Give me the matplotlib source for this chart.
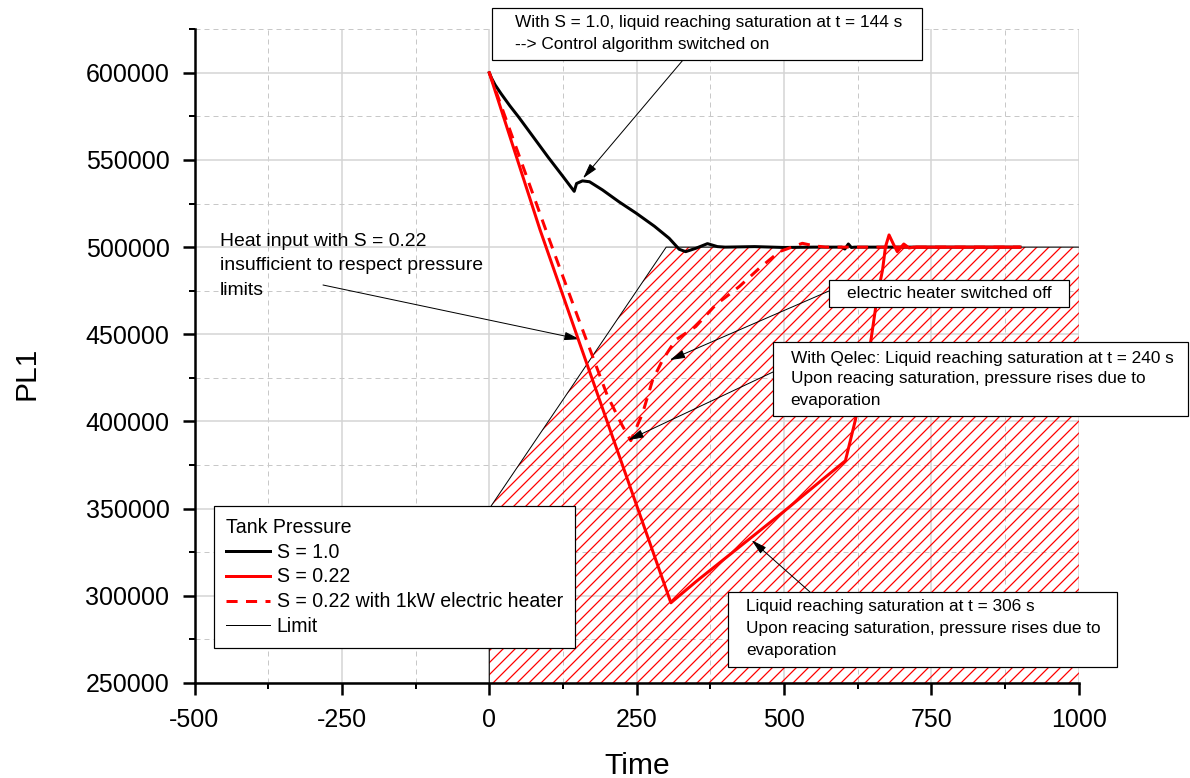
import matplotlib
matplotlib.use("Agg")
import matplotlib.pyplot as plt
from matplotlib.patches import Rectangle
from matplotlib.ticker import MultipleLocator

plt.rcParams['font.family'] = ['Liberation Sans', 'DejaVu Sans']
plt.rcParams['axes.unicode_minus'] = False
plt.rcParams['hatch.color'] = 'red'
plt.rcParams['hatch.linewidth'] = 1.25

# Tank pressure, S = 1.0
t_s10 = [0, 4, 10, 20, 35, 50, 75, 100, 125, 144, 148, 158, 170, 192, 220, 249, 280, 305, 322,
         333, 350, 370, 387, 400, 450, 500, 550, 598, 603, 609, 614, 620, 700, 800, 900]
p_s10 = [600000, 596800, 593000, 588000, 581000, 574500, 563000, 551500, 540500, 532000,
         536500, 538000, 537500, 532800, 526000, 519500, 512000, 505100, 498800, 497400,
         499300, 502000, 500300, 500000, 500300, 499800, 500000, 500000, 498900, 501800,
         499800, 500000, 500000, 500000, 500000]

# Tank pressure, S = 0.22
t_s022 = [0, 86, 151, 230, 308, 350, 400, 450, 500, 550, 604, 621, 647, 658, 667, 672,
          678, 686, 692, 703, 712, 720, 900]
p_s022 = [600000, 510000, 447000, 371000, 296000, 308000, 321500, 335000, 348500, 362500,
          377500, 401000, 446000, 471600, 487000, 500300, 507000, 501300, 497400, 501800,
          499500, 500000, 500000]

# Tank pressure, S = 0.22 with 1kW electric heater
t_heat = [0, 50, 100, 150, 200, 225, 240, 260, 277, 294, 316, 350, 384, 424, 458, 492,
          531, 550, 570, 900]
p_heat = [600000, 553000, 506000, 460000, 415000, 398000, 389000, 404700, 423800, 435300,
          446800, 454400, 466900, 477400, 487900, 497400, 502200, 500800, 500000, 500000]

# pressure limit
limit_t = [0, 0, 300, 1000]
limit_p = [250000, 350000, 500000, 500000]

W, H, DPI = 1190, 778, 72


def fp(x, y):
    # pixel position (top-left origin) -> figure fraction
    return (x / W, 1 - y / H)


fig = plt.figure(figsize=(W / DPI, H / DPI), dpi=DPI)
ax = fig.add_axes([194.5 / W, 1 - 683 / H, 884.4 / W, 653.8 / H])

ax.fill_between(limit_t, 250000, limit_p, facecolor='none', edgecolor='red',
                linewidth=0, hatch='//', zorder=1)
l4, = ax.plot(limit_t, limit_p, color='black', lw=1, zorder=2)
l1, = ax.plot(t_s10, p_s10, color='black', lw=3, zorder=3)
l3, = ax.plot(t_heat, p_heat, color='red', lw=3, ls=(0, (3.7, 2.8)), zorder=3)
l2, = ax.plot(t_s022, p_s022, color='red', lw=3, zorder=4)

ax.set_xlim(-500, 1000)
ax.set_ylim(250000, 625000)
ax.xaxis.set_major_locator(MultipleLocator(250))
ax.xaxis.set_minor_locator(MultipleLocator(125))
ax.yaxis.set_major_locator(MultipleLocator(50000))
ax.yaxis.set_minor_locator(MultipleLocator(25000))
ax.ticklabel_format(style='plain', useOffset=False)

ax.set_axisbelow(True)
ax.grid(which='major', color='#d4d4d4', lw=1.5, ls='-')
ax.grid(which='minor', color='#c8c8c8', lw=1, ls=(0, (5, 4)))

for s in ['top', 'right']:
    ax.spines[s].set_visible(False)
for s in ['left', 'bottom']:
    ax.spines[s].set_linewidth(2.5)
ax.tick_params(which='major', direction='out', length=12, width=2.5, labelsize=25, pad=13)
ax.tick_params(which='minor', direction='out', length=6, width=2)

ax.set_xlabel('Time', fontsize=30, labelpad=20)
ax.set_ylabel('PL1', fontsize=30)
ax.yaxis.set_label_coords(-0.1736, 0.474)

leg = ax.legend(handles=[l1, l2, l3, l4],
                labels=['S = 1.0', 'S = 0.22', 'S = 0.22 with 1kW electric heater', 'Limit'],
                title='Tank Pressure', loc='center', bbox_to_anchor=fp(394.5, 577),
                bbox_transform=fig.transFigure, fontsize=19.5, title_fontsize=19.5,
                alignment='left', fancybox=False, framealpha=1, edgecolor='black',
                borderpad=0.6, handlelength=2.26, handletextpad=0.35, labelspacing=0.3)
leg.get_frame().set_linewidth(1.2)
leg.set_zorder(10)


def note_box(x0, y0, x1, y1, lines, tx, ty, dy, size=17.2):
    fig.patches.append(Rectangle(fp(x0, y1), (x1 - x0) / W, (y1 - y0) / H,
                                 transform=fig.transFigure, facecolor='white',
                                 edgecolor='black', lw=1.2, zorder=5))
    for i, s in enumerate(lines):
        fig.text(*fp(tx, ty + i * dy), s, ha='left', va='center', fontsize=size, zorder=6)


def arrow(tip, tail):
    ax.annotate('', xy=tip, xycoords='data', xytext=fp(*tail), textcoords='figure fraction',
                annotation_clip=False,
                arrowprops=dict(arrowstyle='-|>,head_length=1.0,head_width=0.27',
                                mutation_scale=13, lw=1, color='black',
                                shrinkA=0, shrinkB=0))


note_box(492, 8, 922, 60,
         ['With S = 1.0, liquid reaching saturation at t = 144 s',
          '--> Control algorithm switched on'], 515, 22, 22)
arrow((159, 539500), (683, 60))

for i, s in enumerate(['Heat input with S = 0.22', 'insufficient to respect pressure', 'limits']):
    fig.text(*fp(220, 241.7 + i * 24.2), s, ha='left', va='center', fontsize=19.4)
arrow((153.5, 447200), (323, 285))

note_box(829, 280, 1069, 307, ['electric heater switched off'], 846.7, 293.5, 0)
arrow((306, 435200), (829, 291))

note_box(773, 342, 1188, 416,
         ['With Qelec: Liquid reaching saturation at t = 240 s',
          'Upon reacing saturation, pressure rises due to',
          'evaporation'], 790.7, 358, 21)
arrow((235.7, 389300), (773, 372))

note_box(728, 592, 1117, 667,
         ['Liquid reaching saturation at t = 306 s',
          'Upon reacing saturation, pressure rises due to',
          'evaporation'], 746, 607, 21.5)
arrow((445, 331900), (810, 592))

fig.savefig('out.png', dpi=DPI)
